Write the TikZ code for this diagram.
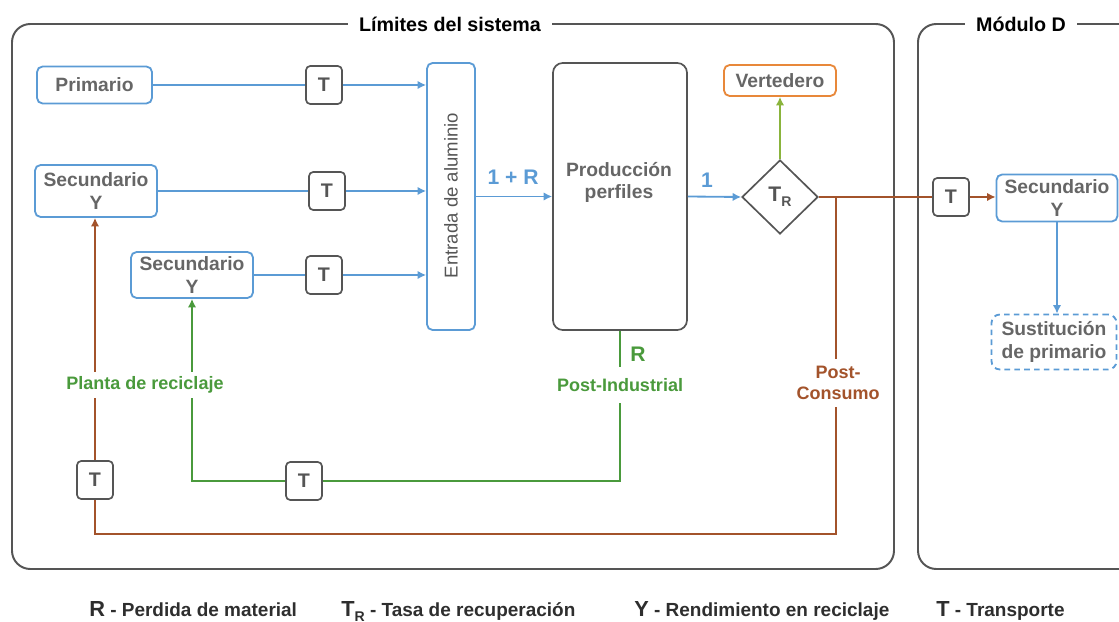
\documentclass[tikz,border=0pt]{standalone}
\usepackage{fontspec}
\setmainfont{Liberation Sans}
\usetikzlibrary{arrows.meta,shapes.geometric}

\definecolor{flowblue}{HTML}{5B9BD5}
\definecolor{pcbrown}{HTML}{A3532B}
\definecolor{recgreen}{HTML}{4A9A3C}
\definecolor{wasteolive}{HTML}{8AB43C}
\definecolor{wasteorange}{HTML}{E8883A}
\definecolor{boxgray}{HTML}{555555}
\definecolor{textgray}{HTML}{666666}
\definecolor{legtext}{HTML}{2E2E2E}

\newcommand{\tasar}{T\raisebox{-0.45ex}{\fontsize{10}{10}\selectfont R}}
\newcommand{\legkey}[1]{{\fontsize{15.5}{16}\selectfont #1}}

\begin{document}
\begin{tikzpicture}[
  x = 0.025cm, y = -0.025cm,
  font = \bfseries\fontsize{13.7}{16}\selectfont,
  every node/.style = {align = center, inner sep = 0pt},
  boundary/.style = {draw = boxgray, line width = 1.4pt, rounded corners = 13pt},
  boxtitle/.style = {fill = white, inner xsep = 8pt, inner ysep = 2pt, text = black,
                     font = \bfseries\fontsize{14}{16}\selectfont},
  srcbox/.style = {draw = flowblue, line width = 1.3pt, rounded corners = 4pt, text = textgray},
  tbox/.style = {draw = boxgray, fill = white, line width = 1.2pt, rounded corners = 3pt,
                 minimum width = 0.9cm, minimum height = 0.95cm, text = boxgray,
                 font = \bfseries\fontsize{14}{16}\selectfont},
  flow/.style = {draw = flowblue, line width = 1.3pt},
  recflow/.style = {draw = recgreen, line width = 1.2pt},
  pcflow/.style = {draw = pcbrown, line width = 1.2pt},
  arr/.style = {-{Latex[length = 6pt, width = 6pt]}},
  linelabel/.style = {fill = white, inner xsep = 2pt, font = \bfseries\fontsize{12.8}{15}\selectfont},
  legend/.style = {anchor = base west, text = legtext, font = \bfseries\fontsize{13.5}{16}\selectfont},
  ]
  \useasboundingbox (0,0) rectangle (1119,622);
  \clip (0,0) rectangle (1119,622);

  \draw[boundary] (12,24) rectangle (894,569);
  \node[boxtitle] (limits) at (450,24) {Límites del sistema};
  \draw[boundary] (918,24) rectangle (1160,569);
  \node[boxtitle] (modd) at (1021,24) {Módulo D};

  \node[srcbox, minimum width = 2.875cm, minimum height = 0.925cm] (prim) at (94.5,85) {Primario};
  \node[srcbox, minimum width = 3.05cm, minimum height = 1.3cm] (sec1) at (96,191) {Secundario\\Y};
  \node[srcbox, minimum width = 3.05cm, minimum height = 1.15cm] (sec2) at (192,275) {Secundario\\Y};
  \node[tbox] (t1) at (324,85) {T};
  \node[tbox] (t2) at (327,191) {T};
  \node[tbox] (t3) at (324,275) {T};
  \node[tbox] (t4) at (95,480) {T};
  \node[tbox] (t5) at (304,481) {T};
  \node[tbox] (t6) at (951,197) {T};

  \node[srcbox, minimum width = 1.2cm, minimum height = 6.675cm] (ent) at (451,196.5) {};
  \node[rotate = 90, text = boxgray, font = \fontsize{13.2}{15}\selectfont] (enttxt) at (451,195.5) {Entrada de aluminio};
  \node[draw = boxgray, line width = 1.2pt, rounded corners = 7pt,
        minimum width = 3.35cm, minimum height = 6.675cm] (prod) at (620,196.5) {};
  \node[text = textgray] (prodtxt) at (619,182.5) {Producción\\perfiles};
  \node[diamond, draw = boxgray, line width = 1.2pt, minimum width = 1.9cm,
        minimum height = 1.85cm, text = boxgray, font = \bfseries\fontsize{15}{16}\selectfont] (tr) at (780,197) {\tasar};
  \node[draw = wasteorange, line width = 1.3pt, rounded corners = 4pt, minimum width = 2.8cm,
        minimum height = 0.775cm, text = textgray] (vert) at (780,80.5) {Vertedero};
  \node[srcbox, minimum width = 3.025cm, minimum height = 1.175cm] (secd) at (1057,198) {Secundario\\Y};
  \node[srcbox, dash pattern = on 4pt off 3pt, rounded corners = 6pt, minimum width = 3.125cm,
        minimum height = 1.375cm] (sust) at (1054,342) {Sustitución\\de primario};

  \draw[flow] (prim) -- (t1);
  \draw[flow, arr] (t1) -- (t1 -| ent.west);
  \draw[flow] (sec1) -- (t2);
  \draw[flow, arr] (t2) -- (t2 -| ent.west);
  \draw[flow] (sec2) -- (t3);
  \draw[flow, arr] (t3) -- (t3 -| ent.west);
  \draw[flow, arr] (ent.east) -- (prod.west);
  \draw[flow, arr] (prod.east) -- (tr.west);
  \draw[draw = wasteolive, line width = 1.2pt, arr] (tr.north) -- (vert.south);
  \draw[pcflow] (tr.east) -- (t6);
  \draw[pcflow, arr] (t6) -- (t6 -| secd.west);
  \draw[flow, arr] (secd.south) -- (secd.south |- sust.north);

  \coordinate (pc1) at (836,197);
  \coordinate (pc2) at (836,534);
  \coordinate (pc3) at (95,534);
  \draw[pcflow] (pc1) -- (pc2) -- (pc3) -- (t4);
  \draw[pcflow, arr] (t4) -- (t4 |- sec1.south);
  \draw[recflow] (prod.south) -- (prod.south |- t5) -- (t5);
  \draw[recflow, arr] (t5) -| (sec2.south);

  \node[text = flowblue, font = \bfseries\fontsize{15}{16}\selectfont] (oneplusr) at (513,177) {1 + R};
  \node[text = flowblue, font = \bfseries\fontsize{15}{16}\selectfont] (one) at (707,180) {1};
  \node[text = recgreen, font = \bfseries\fontsize{15}{16}\selectfont] (rloss) at (638,354) {R};
  \node[linelabel, inner ysep = 3pt, text = recgreen] (planta) at (145,385) {Planta de reciclaje};
  \node[linelabel, inner ysep = 8pt, text = recgreen] (postind) at (620,385) {Post-Industrial};
  \node[linelabel, inner ysep = 5pt, text = pcbrown] (postcon) at (838,383) {Post-\\Consumo};

  \node[legend] (legr) at (89,616) {\legkey{R} - Perdida de material};
  \node[legend] (legt) at (341,616) {\legkey{\tasar} - Tasa de recuperación};
  \node[legend] (legy) at (634,616) {\legkey{Y} - Rendimiento en reciclaje};
  \node[legend] (legtr) at (936,616) {\legkey{T} - Transporte};
\end{tikzpicture}
\end{document}
